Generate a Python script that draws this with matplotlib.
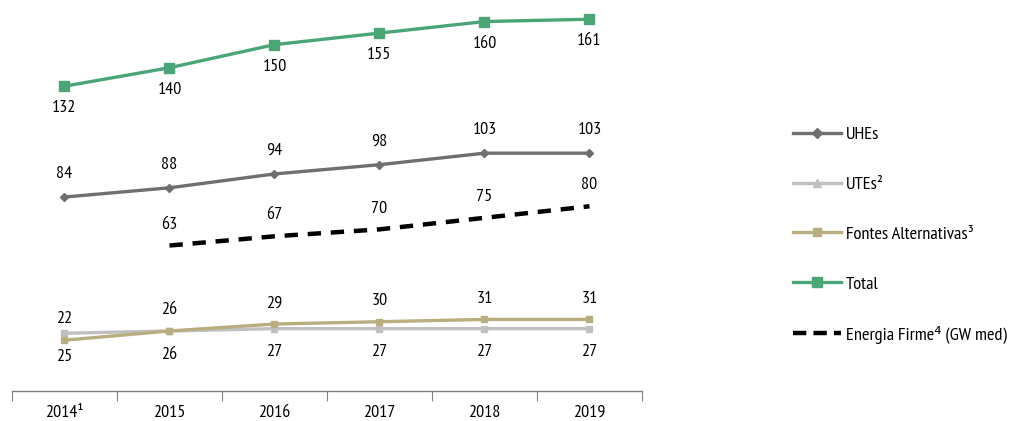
import numpy as np
import matplotlib
matplotlib.use("Agg")
import matplotlib.pyplot as plt
from matplotlib.lines import Line2D

plt.rcParams['font.family'] = ['PT Sans Narrow', 'DejaVu Sans']

years = ["2014¹", "2015", "2016", "2017", "2018", "2019"]
uhes = [84, 88, 94, 98, 103, 103]
utes = [25, 26, 27, 27, 27, 27]
fontes = [22, 26, 29, 30, 31, 31]
total = [132, 140, 150, 155, 160, 161]
firme = [63, 67, 70, 75, 80]   # from 2015

c_uhe = "#6f6f6f"
c_ute = "#c0c0c0"
c_fon = "#b9ae80"
c_tot = "#4aa577"
c_fir = "black"

fig = plt.figure(figsize=(10.11, 4.21), dpi=100)
ax = fig.add_axes([12/1011, 30/421, 630/1011, 381/421])

x = np.arange(len(years))

ax.plot(x, utes, color=c_ute, lw=2.4, marker="s", ms=5)
ax.plot(x, fontes, color=c_fon, lw=2.4, marker="s", ms=5)
ax.plot(x, uhes, color=c_uhe, lw=2.4, marker="D", ms=4.5)
ax.plot(x, total, color=c_tot, lw=2.4, marker="s", ms=7)
ax.plot(x[1:], firme, color=c_fir, lw=3.2, ls=(0, (3, 2.2)))

fs = 13
# data labels
for i, v in enumerate(total):
    ax.annotate(str(v), (x[i], v), xytext=(0, -16), textcoords="offset points",
                ha="center", va="center", fontsize=fs)
for i, v in enumerate(uhes):
    ax.annotate(str(v), (x[i], v), xytext=(0, 16.5), textcoords="offset points",
                ha="center", va="center", fontsize=fs)
for i, v in enumerate(firme):
    ax.annotate(str(v), (x[i + 1], v), xytext=(0, 15), textcoords="offset points",
                ha="center", va="center", fontsize=fs)
for i, v in enumerate(fontes):
    ax.annotate(str(v), (x[i], v), xytext=(0, 15), textcoords="offset points",
                ha="center", va="center", fontsize=fs)
for i, v in enumerate(utes):
    ax.annotate(str(v), (x[i], v), xytext=(0, -17), textcoords="offset points",
                ha="center", va="center", fontsize=fs)

ax.set_xlim(-0.5, len(years) - 0.5)
ax.set_ylim(0, 165)
ax.set_yticks([])
for s in ["top", "right", "left"]:
    ax.spines[s].set_visible(False)
ax.spines["bottom"].set_color("#808080")
ax.spines["bottom"].set_linewidth(1)

# ticks between categories, labels at centres
ax.set_xticks(np.arange(-0.5, len(years)))
ax.set_xticklabels([])
ax.tick_params(axis="x", which="major", length=7, color="#808080", direction="out")
ax.set_xticks(x, minor=True)
ax.set_xticklabels(years, minor=True, fontsize=fs)
ax.tick_params(axis="x", which="minor", length=0, pad=10)

handles = [
    Line2D([], [], color=c_uhe, lw=2.4, marker="D", ms=5),
    Line2D([], [], color=c_ute, lw=2.4, marker="^", ms=6),
    Line2D([], [], color=c_fon, lw=2.4, marker="s", ms=6),
    Line2D([], [], color=c_tot, lw=2.4, marker="s", ms=7),
    Line2D([], [], color=c_fir, lw=3.2, ls=(0, (3, 1.6))),
]
labels = ["UHEs", "UTEs²", "Fontes Alternativas³", "Total", "Energia Firme⁴ (GW med)"]
fig.legend(handles, labels, loc="upper left", bbox_to_anchor=(786/1011, 1 - 119/421),
           frameon=False, fontsize=13.2, handlelength=2.6, handletextpad=0.25,
           labelspacing=1.8, borderaxespad=0)

fig.savefig("out.png", dpi=100)
